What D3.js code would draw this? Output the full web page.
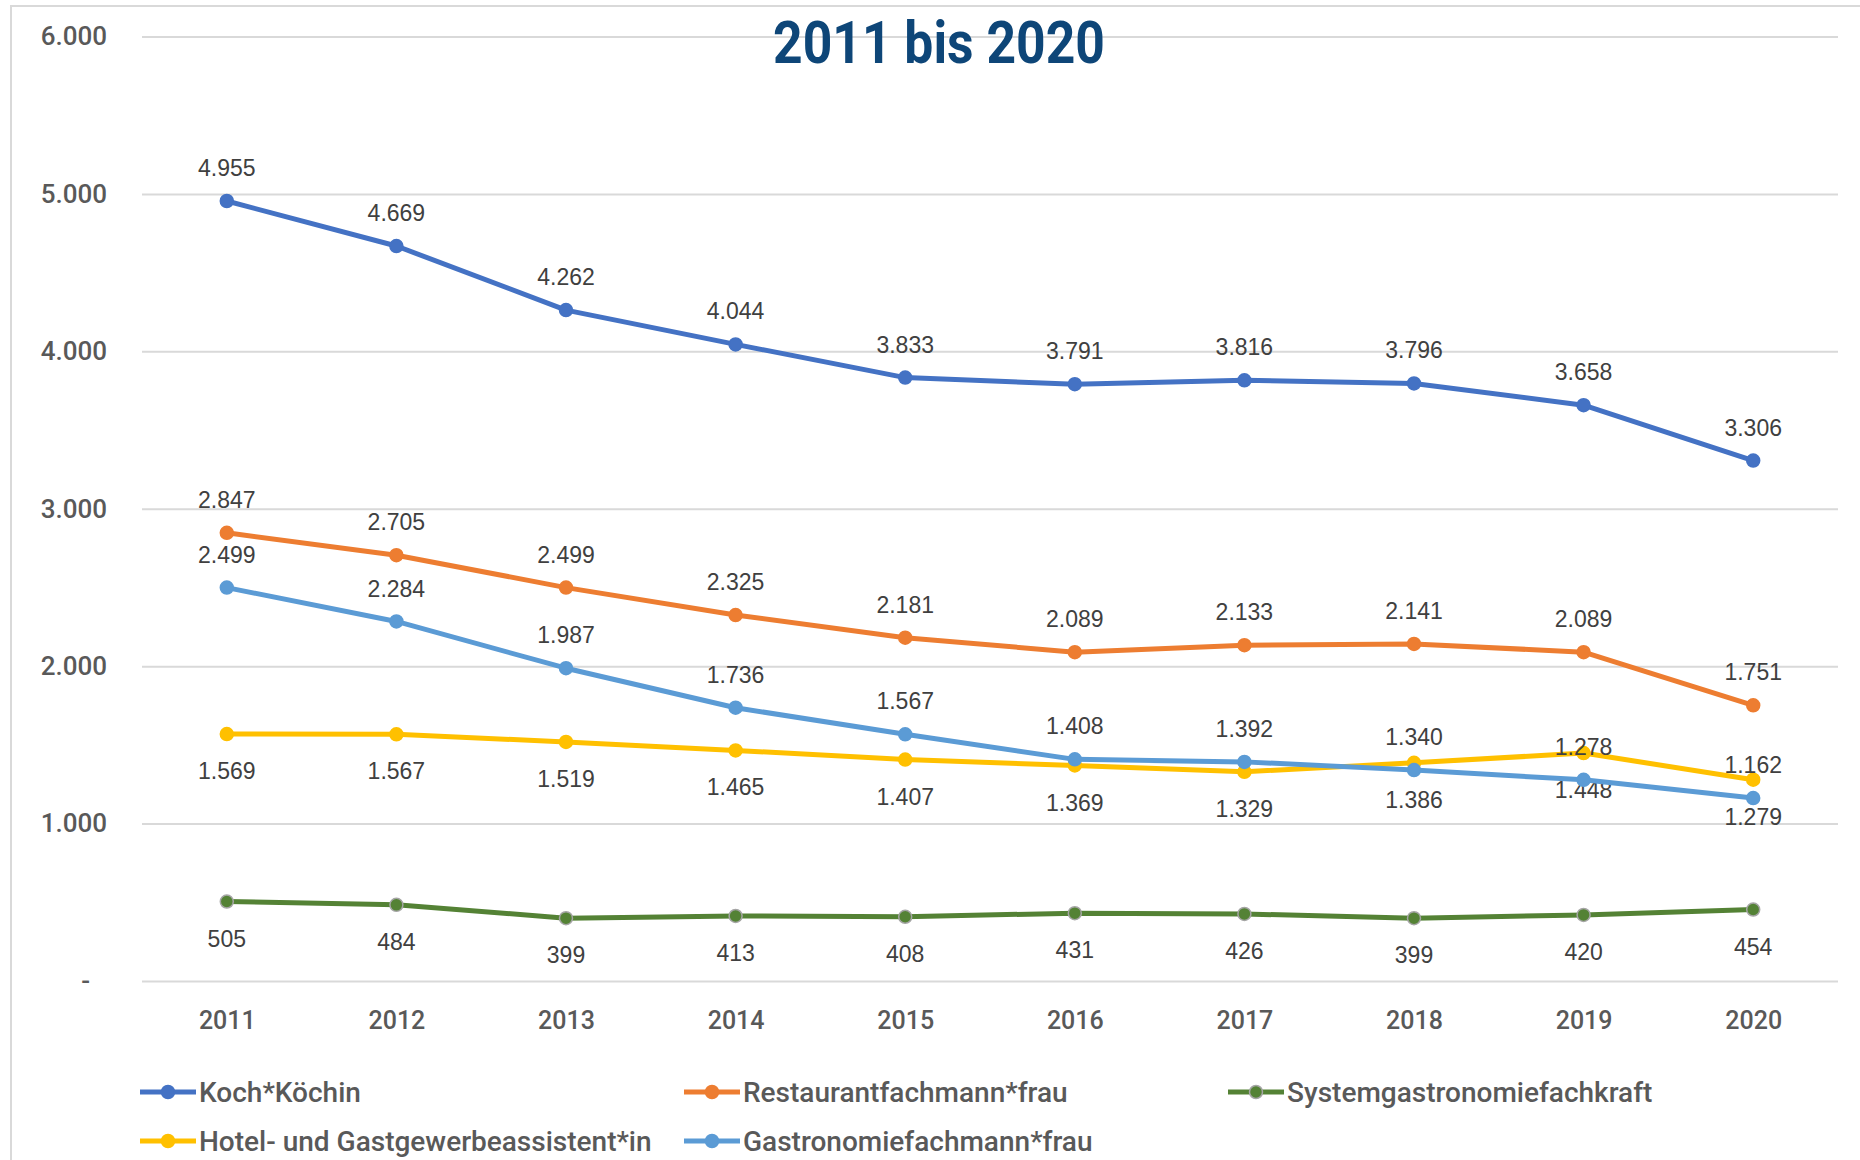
<!DOCTYPE html>
<html>
<head>
<meta charset="utf-8">
<script src="https://cdn.jsdelivr.net/npm/d3@7"></script>
<style>
  body { margin: 0; background: #fff; }
  .tick text { fill: #595959; font-family: Roboto, "DejaVu Sans", sans-serif; font-weight: 500; }
  .dataLabel { fill: #404040; font-family: "Liberation Sans", Arial, sans-serif; font-size: 23px; }
  .legend text { fill: #595959; font-family: Roboto, "DejaVu Sans", sans-serif; font-size: 28px; font-weight: 500; }
</style>
</head>
<body>
<div id="chart"></div>
<script>
var years = ['2011', '2012', '2013', '2014', '2015', '2016', '2017', '2018', '2019', '2020'];
var yTicks = [0, 1000, 2000, 3000, 4000, 5000, 6000];

var seriesNames = ['Koch*Köchin', 'Restaurantfachmann*frau', 'Systemgastronomiefachkraft',
  'Hotel- und Gastgewerbeassistent*in', 'Gastronomiefachmann*frau'];

var kochValues = [4955, 4669, 4262, 4044, 3833, 3791, 3816, 3796, 3658, 3306];
var restaurantValues = [2847, 2705, 2499, 2325, 2181, 2089, 2133, 2141, 2089, 1751];
var systemValues = [505, 484, 399, 413, 408, 431, 426, 399, 420, 454];
var hotelValues = [1569, 1567, 1519, 1465, 1407, 1369, 1329, 1386, 1448, 1279];
var gastroValues = [2499, 2284, 1987, 1736, 1567, 1408, 1392, 1340, 1278, 1162];

var colors = ['#4472C4', '#ED7D31', '#548235', '#FFC000', '#5B9BD5'];
var labelAbove = [true, true, false, false, true];

var allValues = [kochValues, restaurantValues, systemValues, hotelValues, gastroValues];
var series = seriesNames.map(function(name, i) {
  return {
    name: name,
    color: colors[i],
    above: labelAbove[i],
    points: years.map(function(y, j) { return {year: y, value: allValues[i][j]}; })
  };
});

var svgWidth = 1860;
var svgHeight = 1160;
var plot = {left: 142, right: 1838, top: 36.5, bottom: 981};

var de = d3.formatLocale({decimal: ',', thousands: '.', grouping: [3], currency: ['', '€']});
var fmt = de.format(',d');

var xScale = d3.scalePoint()
  .domain(years)
  .range([plot.left, plot.right])
  .padding(0.5);

var yScale = d3.scaleLinear()
  .domain([0, 6000])
  .range([plot.bottom, plot.top]);

var svg = d3.select('#chart')
  .append('svg')
  .attr('width', svgWidth)
  .attr('height', svgHeight);

// chart border
svg.append('rect')
  .attr('x', 11)
  .attr('y', 6)
  .attr('width', 1900)
  .attr('height', 1200)
  .attr('fill', 'none')
  .attr('stroke', '#d9d9d9')
  .attr('stroke-width', 2);

// y axis + gridlines
var yAxis = d3.axisLeft(yScale)
  .tickValues(yTicks)
  .tickSize(-(plot.right - plot.left))
  .tickPadding(35)
  .tickFormat(function(d) { return d === 0 ? '-' : fmt(d); });

var yG = svg.append('g')
  .attr('transform', 'translate(' + plot.left + ',0)')
  .call(yAxis);
yG.select('.domain').remove();
yG.selectAll('.tick line').attr('stroke', '#d9d9d9').attr('stroke-width', 2);
yG.selectAll('.tick text').style('font-size', '26px');
yG.selectAll('.tick text').filter(function(d) { return d === 0; }).attr('dx', -17);

// x axis
var xAxis = d3.axisBottom(xScale).tickSize(0).tickPadding(0);
var xG = svg.append('g')
  .attr('transform', 'translate(0,' + plot.bottom + ')')
  .call(xAxis);
xG.select('.domain').remove();
xG.selectAll('.tick text')
  .attr('y', 39)
  .attr('dy', '0.35em')
  .style('font-size', '25px');

// title
svg.append('text')
  .attr('x', 939)
  .attr('y', 63)
  .attr('text-anchor', 'middle')
  .attr('fill', '#0E4678')
  .attr('textLength', 332)
  .attr('lengthAdjust', 'spacingAndGlyphs')
  .style('font-family', 'Roboto, "DejaVu Sans", sans-serif')
  .style('font-weight', 'bold')
  .style('font-size', '60px')
  .text('2011 bis 2020');

var line = d3.line()
  .x(function(d) { return xScale(d.year); })
  .y(function(d) { return yScale(d.value); });

var groups = svg.append('g')
  .selectAll('g.series')
  .data(series)
  .enter()
  .append('g')
  .attr('class', 'series');

groups.append('path')
  .attr('d', function(d) { return line(d.points); })
  .attr('fill', 'none')
  .attr('stroke', function(d) { return d.color; })
  .attr('stroke-width', 5)
  .attr('stroke-linejoin', 'round');

groups.selectAll('circle')
  .data(function(d) { return d.points.map(function(p) { return {p: p, s: d}; }); })
  .enter()
  .append('circle')
  .attr('cx', function(d) { return xScale(d.p.year); })
  .attr('cy', function(d) { return yScale(d.p.value); })
  .attr('r', 6.5)
  .attr('fill', function(d) { return d.s.color; })
  .attr('stroke', function(d) { return d.s.color === '#548235' ? '#a5a5a5' : d.s.color; })
  .attr('stroke-width', 1.5);

// data labels
groups.selectAll('text.dataLabel')
  .data(function(d) { return d.points.map(function(p) { return {p: p, s: d}; }); })
  .enter()
  .append('text')
  .attr('class', 'dataLabel')
  .attr('x', function(d) { return xScale(d.p.year); })
  .attr('y', function(d) { return yScale(d.p.value) + (d.s.above ? -33 : 37); })
  .attr('dy', '0.35em')
  .attr('text-anchor', 'middle')
  .text(function(d) { return fmt(d.p.value); });

// legend
var legendPos = [[140, 1092], [684, 1092], [1228, 1092], [140, 1141], [684, 1141]];
var legend = svg.append('g')
  .attr('class', 'legend')
  .selectAll('g')
  .data(series)
  .enter()
  .append('g')
  .attr('transform', function(d, i) { return 'translate(' + legendPos[i][0] + ',' + legendPos[i][1] + ')'; });

legend.append('line')
  .attr('x1', 0)
  .attr('x2', 56)
  .attr('stroke', function(d) { return d.color; })
  .attr('stroke-width', 5);

legend.append('circle')
  .attr('cx', 28)
  .attr('r', 6.5)
  .attr('fill', function(d) { return d.color; })
  .attr('stroke', function(d) { return d.color === '#548235' ? '#a5a5a5' : d.color; })
  .attr('stroke-width', 1.5);

legend.append('text')
  .attr('x', 59)
  .attr('dy', '0.35em')
  .text(function(d) { return d.name; });
</script>
</body>
</html>
